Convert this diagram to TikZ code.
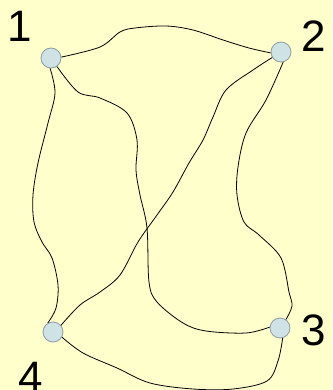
\documentclass[tikz,border=0pt]{standalone}
\usepackage{fontspec}
\setmainfont{Liberation Sans}

\definecolor{paper}{HTML}{FFFFCC}
\definecolor{vfill}{HTML}{CFE2E6}
\definecolor{vline}{HTML}{8E9EA2}

\begin{document}
\begin{tikzpicture}[
  x=1pt, y=-1pt,
  main/.style={circle, draw=vline, fill=vfill, line width=0.8pt, minimum size=20pt, inner sep=0pt},
  num/.style={anchor=base, inner sep=0pt, font=\fontsize{44}{44}\selectfont},
  wire/.style={line width=0.8pt, smooth, tension=0.55}
  ]

  \fill[paper] (0,0) rectangle (332,390);
  \useasboundingbox (0,0) rectangle (332,390);

  \node[main] (1) at (51,58) {};
  \node[main] (2) at (281,52) {};
  \node[main] (3) at (280,328) {};
  \node[main] (4) at (53,332) {};

  \node[num] (l1) at (20,42) {1};
  \node[num] (l2) at (314,52) {2};
  \node[num] (l3) at (314,345) {3};
  \node[num] (l4) at (31,392) {4};

  % 1 -- 2 along the top
  \draw[wire] plot coordinates {(1.5) (100,47) (120,32) (135,28) (166,26) (193,30) (223,40) (249,48) (2.185)};

  % 1 -- 3 through the middle
  \draw[wire] plot coordinates {(1.-55) (78,92) (100,98) (127,113) (137,140) (136,170) (140,195) (147,228) (149,282) (157,302) (183,323) (206,331) (246,333) (3.175)};

  % 1 -- 4 down the left side
  \draw[wire] plot coordinates {(1.-95) (55,93) (48,123) (38,163) (33,195) (34,222) (42,242) (52,258) (58,285) (56,308) (4.120)};

  % 2 -- 4 across
  \draw[wire] plot coordinates {(2.212) (253,70) (226,90) (213,117) (203,140) (189,163) (173,192) (157,215) (138,242) (120,275) (100,292) (80,305) (4.40)};

  % 2 -- 3 down the right side
  \draw[wire] plot coordinates {(2.-78) (266,100) (246,133) (238,167) (237,195) (244,222) (259,235) (281,258) (289,292) (292,306) (3.55)};

  % 4 -- 3 along the bottom
  \draw[wire] plot coordinates {(4.-30) (83,353) (117,368) (150,383) (193,389) (233,389) (267,381) (278,361) (3.-75)};

\end{tikzpicture}
\end{document}
